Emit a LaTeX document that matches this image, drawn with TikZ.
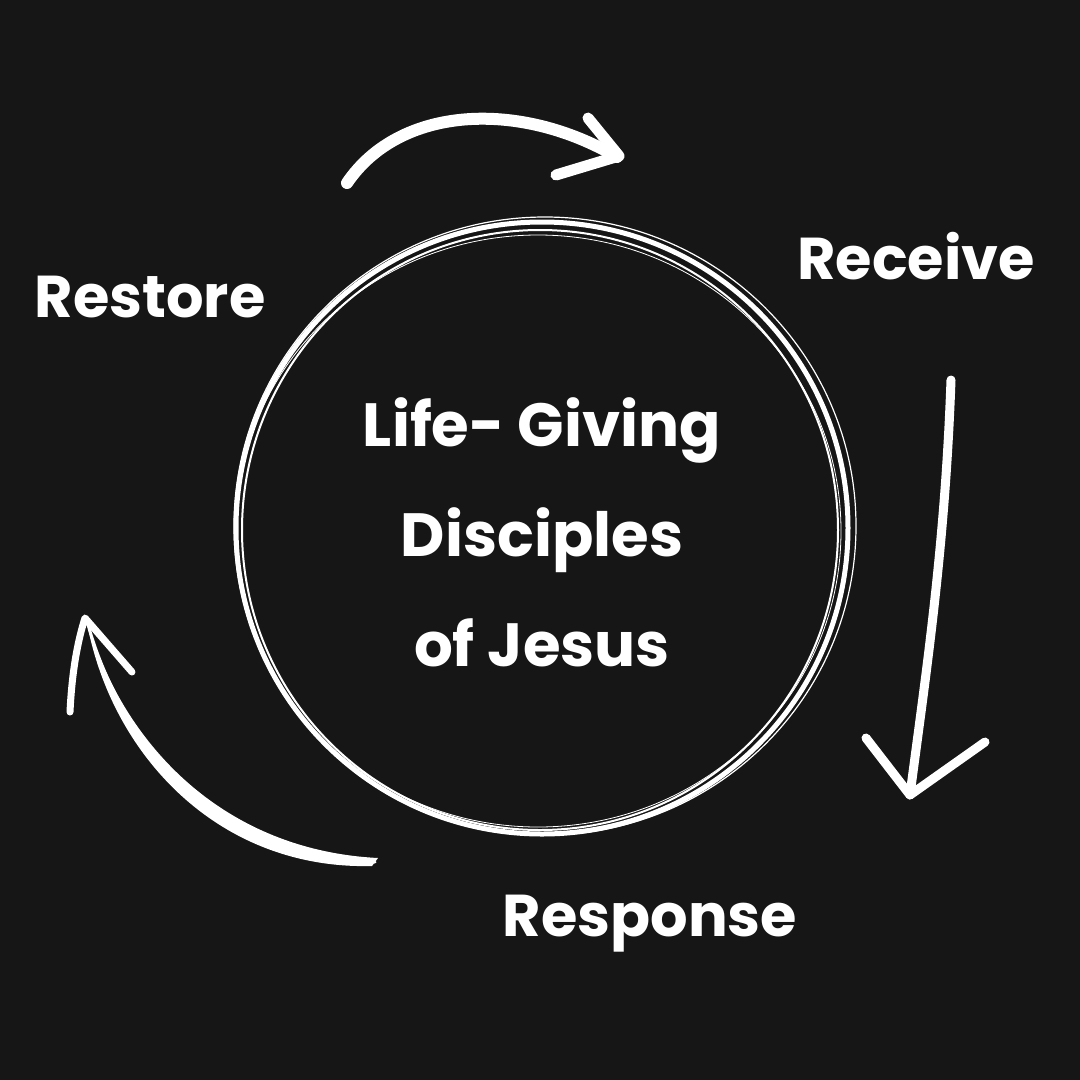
\documentclass[tikz,border=0pt]{standalone}
\usepackage{fontspec}
\setmainfont{Poppins}
\usetikzlibrary{positioning}
\definecolor{BoardBlack}{RGB}{22,22,22}
\tikzset{
  chalk/.style={draw=white,line width=#1,line cap=round,line join=round},
  stage/.style={text=white,inner sep=0pt,font=\bfseries\fontsize{59}{59}\selectfont},
  hubtext/.style={text=white,inner sep=0pt,align=center,font=\bfseries\fontsize{61}{110}\selectfont},
}

\begin{document}
\begin{tikzpicture}[x=1pt,y=-1pt]
  \fill[BoardBlack] (0,0) rectangle (1080,1080);
  \useasboundingbox (0,0) rectangle (1080,1080);

  % the ring
  \draw[chalk=5] (542,528) circle[radius=306];
  \draw[chalk=2] (540,530) circle[x radius=298,y radius=300];
  \draw[chalk=1.2] (545,526) circle[x radius=311,y radius=309];
  \draw[chalk=0.8] (538,531) circle[x radius=303,y radius=296];

  % texts
  \node[hubtext] (core) at (542,532) {Life- Giving\\Disciples\\of Jesus};
  \node[stage] (receive) at (916,256) {Receive};
  \node[stage] (response) at (650,924) {Response};
  \node[stage] (restore) at (150,297) {Restore};

  % top arrow
  \draw[chalk=12] (347,183) .. controls (400,105) and (520,100) .. (617,157);
  \draw[chalk=11] (588,118) -- (619,156) -- (556,175);

  % right arrow
  \draw[chalk=9] (951,380) .. controls (945,550) and (925,680) .. (910,795);
  \draw[chalk=9] (866,738) -- (910,795) -- (985,742);

  % left arrow
  \fill[white] (86,617) .. controls (120,740) and (220,850) .. (378,858)
    -- (372,866) .. controls (215,870) and (108,750) .. (86,617) -- cycle;
  \draw[chalk=3] (86,617) .. controls (118,742) and (218,858) .. (375,862);
  \draw[chalk=7] (70,712) .. controls (72,670) and (78,640) .. (85,618) -- (132,672);
\end{tikzpicture}
\end{document}
